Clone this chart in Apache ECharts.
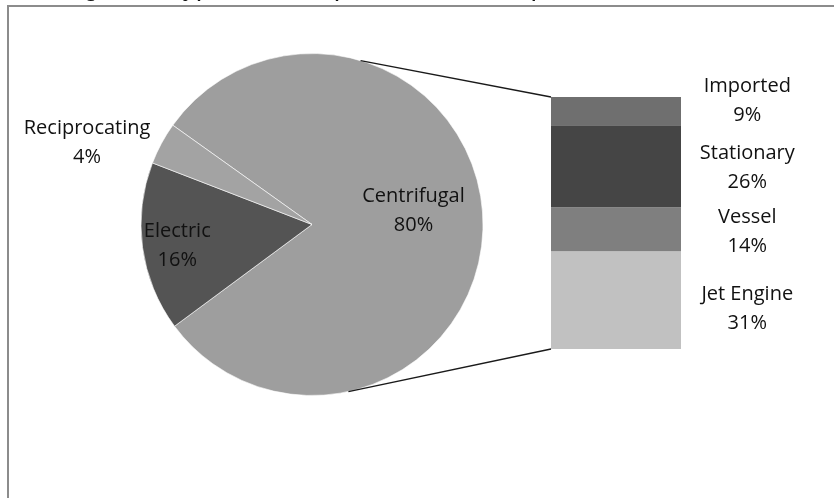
<!DOCTYPE html>
<html>
<head>
<meta charset="utf-8">
<script src="https://cdn.jsdelivr.net/npm/echarts@6/dist/echarts.min.js"></script>
<style>
  html, body { margin: 0; padding: 0; background: #fff; }
  #chart { width: 834px; height: 498px; }
</style>
</head>
<body>
<div id="chart"></div>
<script>
// Figure caption
const titleText = 'Figure 1 Types of Compressors at Sample Facilities';

// Main pie: compressor types (percent)
const pieNames = ['Centrifugal', 'Electric', 'Reciprocating'];
const pieValues = [80, 16, 4];

// Breakdown of the centrifugal share, stacked bottom to top (percent)
const barNames = ['Jet Engine', 'Vessel', 'Stationary', 'Imported'];
const barValues = [31, 14, 26, 9];

// ---- styling ----
const FONT = '"Open Sans", "Noto Sans", sans-serif';
const FONT_SIZE = 20;
const pieColors = ['#9e9e9e', '#545454', '#a3a3a3'];
const pieLabelOffsets = [[13, -13], [-47, 9], [-147, -40]];
const barColors = ['#c1c1c1', '#7f7f7f', '#454545', '#6f6f6f'];
const barLabelOffsets = [[0, 9], [0, 2], [0, 1], [0, -10]];

const pieCenter = [312, 224.5];
const pieRadius = 171;
const pieStartAngle = 144.5;
const grid = { left: 551, top: 97, width: 130, height: 252 };
// where the connector lines meet the pie rim (degrees, counter-clockwise from +x)
const connectAngles = [73.5, -77.7];

const barTotal = barValues.reduce((a, b) => a + b, 0);

const chart = echarts.init(document.getElementById('chart'), null, { renderer: 'canvas' });

const labelStyle = {
  color: '#111',
  fontFamily: FONT,
  fontSize: FONT_SIZE,
  lineHeight: 29
};

const option = {
  backgroundColor: '#fff',
  animation: false,
  grid: Object.assign({ containLabel: false }, grid),
  xAxis: { type: 'category', data: ['Centrifugal'], show: false },
  yAxis: { type: 'value', min: 0, max: barTotal, show: false },
  series: [
    {
      type: 'pie',
      center: pieCenter,
      radius: pieRadius,
      startAngle: pieStartAngle,
      clockwise: true,
      avoidLabelOverlap: false,
      itemStyle: { borderColor: '#ffffff', borderWidth: 0.6 },
      label: Object.assign({
        show: true,
        position: 'inside',
        formatter: '{b}\n{d}%',
        align: 'center'
      }, labelStyle),
      labelLine: { show: false },
      emphasis: { disabled: true },
      data: pieNames.map((n, i) => ({
        name: n,
        value: pieValues[i],
        itemStyle: { color: pieColors[i] },
        label: { offset: pieLabelOffsets[i] }
      }))
    }
  ].concat(barNames.map((n, i) => ({
    type: 'bar',
    name: n,
    stack: 'split',
    barWidth: '100%',
    emphasis: { disabled: true },
    itemStyle: { color: barColors[i] },
    label: Object.assign({
      show: true,
      position: ['151%', '50%'],
      align: 'center',
      verticalAlign: 'middle',
      offset: barLabelOffsets[i],
      formatter: '{a}\n{c}%'
    }, labelStyle),
    data: [barValues[i]]
  })))
};

chart.setOption(option);

// Connector lines from the pie rim to the top and bottom corners of the bar
const barTopY = chart.convertToPixel({ yAxisIndex: 0 }, barTotal);
const barBottomY = chart.convertToPixel({ yAxisIndex: 0 }, 0);
const rim = a => [
  pieCenter[0] + pieRadius * Math.cos(a * Math.PI / 180),
  pieCenter[1] - pieRadius * Math.sin(a * Math.PI / 180)
];
const p1 = rim(connectAngles[0]);
const p2 = rim(connectAngles[1]);

chart.setOption({
  graphic: [
    {
      type: 'text',
      z: 10,
      style: {
        x: 61, y: -12,
        text: titleText,
        font: '27px "Liberation Sans", Arial, sans-serif',
        fill: '#111',
        verticalAlign: 'middle'
      },
      silent: true
    },
    {
      type: 'rect',
      z: 20,
      shape: { x: 8, y: 6, width: 900, height: 600 },
      style: { fill: 'none', stroke: '#8c8c8c', lineWidth: 2 },
      silent: true
    },
    {
      type: 'line',
      z: 5,
      shape: { x1: p1[0], y1: p1[1], x2: grid.left, y2: barTopY },
      style: { stroke: '#1a1a1a', lineWidth: 1.3 },
      silent: true
    },
    {
      type: 'line',
      z: 5,
      shape: { x1: p2[0], y1: p2[1], x2: grid.left, y2: barBottomY },
      style: { stroke: '#1a1a1a', lineWidth: 1.3 },
      silent: true
    }
  ]
});
</script>
</body>
</html>
